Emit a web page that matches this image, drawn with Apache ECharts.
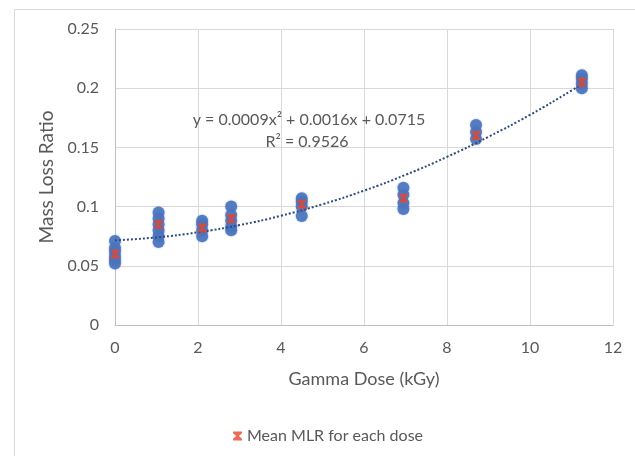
<!DOCTYPE html>
<html>
<head>
<meta charset="utf-8">
<script src="https://cdn.jsdelivr.net/npm/echarts@6/dist/echarts.min.js"></script>
<style>html,body{margin:0;padding:0;background:#fff;}#c{width:635px;height:456px;}</style>
</head>
<body>
<div id="c"></div>
<script>
// Raw measurements (dose kGy, mass loss ratio)
const doses = [0, 1.05, 2.1, 2.8, 4.5, 6.95, 8.7, 11.25];
const mlr0 = [0.052, 0.055, 0.058, 0.062, 0.065, 0.071];
const mlr1 = [0.070, 0.075, 0.080, 0.085, 0.090, 0.095];
const mlr2 = [0.075, 0.080, 0.085, 0.088];
const mlr3 = [0.080, 0.083, 0.088, 0.093, 0.100];
const mlr4 = [0.092, 0.100, 0.104, 0.107];
const mlr5 = [0.098, 0.103, 0.110, 0.116];
const mlr6 = [0.157, 0.163, 0.169];
const mlr7 = [0.200, 0.204, 0.208, 0.211];
const meanMLR = [0.060, 0.085, 0.082, 0.090, 0.102, 0.107, 0.160, 0.205];
// Trendline points
const trendX = [0, 1, 2, 3, 4, 5, 6, 7, 8, 9, 10, 11, 11.25];
const trendY = [0.0715, 0.074, 0.0783, 0.0844, 0.0923, 0.102, 0.1135, 0.1268, 0.142, 0.159, 0.1775, 0.198, 0.2034];
const xTicks = [0, 2, 4, 6, 8, 10, 12];
const yTicks = [0, 0.05, 0.1, 0.15, 0.2, 0.25];
const eqText1 = 'y = 0.0009x² + 0.0016x + 0.0715';
const eqText2 = 'R² = 0.9526';

const groups = [mlr0, mlr1, mlr2, mlr3, mlr4, mlr5, mlr6, mlr7];
const raw = [];
groups.forEach((g, i) => g.forEach(v => raw.push([doses[i], v])));
const means = doses.map((d, i) => [d, meanMLR[i]]);
const trend = trendX.map((x, i) => [x, trendY[i]]);

const FONT = 'Lato, "Liberation Sans", sans-serif';
const GREY = '#595959';
const bowtie = 'path://M0,0 L10,0 L10,2 L6.5,5 L10,8 L10,10 L0,10 L0,8 L3.5,5 L0,2 Z';

const chart = echarts.init(document.getElementById('c'));
chart.setOption({
  animation: false,
  textStyle: { fontFamily: FONT },
  graphic: [
    { type: 'rect', left: 12, top: 7, shape: { width: 622, height: 460 },
      style: { fill: 'none', stroke: '#d9d9d9', lineWidth: 1 }, z: -1 },
    { type: 'text', x: 309, y: 120, style: { text: eqText1, fill: GREY, font: '16px ' + FONT, align: 'center', verticalAlign: 'middle' }, z: 10 },
    { type: 'text', x: 307, y: 142, style: { text: eqText2, fill: GREY, font: '16px ' + FONT, align: 'center', verticalAlign: 'middle' }, z: 10 }
  ],
  grid: { left: 115, right: 22, top: 29, bottom: 131 },
  xAxis: {
    type: 'value', min: 0, max: 12, interval: 2,
    name: 'Gamma Dose (kGy)', nameLocation: 'middle', nameGap: 45,
    nameTextStyle: { color: GREY, fontSize: 18, fontFamily: FONT },
    axisLine: { show: true, lineStyle: { color: '#bfbfbf' } },
    axisTick: { show: false },
    axisLabel: { color: GREY, fontSize: 16, margin: 15, fontFamily: FONT,
      formatter: v => xTicks.includes(v) ? String(v) : '' },
    splitLine: { show: true, lineStyle: { color: '#d9d9d9' } }
  },
  yAxis: {
    type: 'value', min: 0, max: 0.25, interval: 0.05,
    name: 'Mass Loss Ratio', nameLocation: 'middle', nameGap: 58, nameRotate: 90,
    nameTextStyle: { color: GREY, fontSize: 19, fontFamily: FONT },
    axisLine: { show: true, lineStyle: { color: '#bfbfbf' } },
    axisTick: { show: false },
    axisLabel: { color: GREY, fontSize: 16, margin: 16, fontFamily: FONT,
      formatter: v => { const t = yTicks.find(y => Math.abs(y - v) < 1e-9); return t === undefined ? '' : String(t); } },
    splitLine: { show: true, lineStyle: { color: '#d9d9d9' } }
  },
  legend: {
    data: [{ name: 'Mean MLR for each dose', icon: bowtie }],
    left: 228, top: 423, itemWidth: 9, itemHeight: 9, itemGap: 6,
    textStyle: { color: GREY, fontSize: 16, fontFamily: FONT }
  },
  series: [
    {
      name: 'MLR', type: 'scatter', data: raw, symbolSize: 12,
      itemStyle: { color: '#4a74be', opacity: 0.9, shadowBlur: 2, shadowColor: 'rgba(68,114,196,0.5)' }, z: 2
    },
    {
      name: 'Trend', type: 'line', data: trend, smooth: true, showSymbol: false, symbol: 'none',
      lineStyle: { color: '#2f4b7c', width: 2, type: [2, 2] }, z: 3
    },
    {
      name: 'Mean MLR for each dose', type: 'scatter', data: means, symbol: bowtie, symbolSize: 9,
      itemStyle: { color: '#e8452c' }, z: 4
    }
  ]
});
</script>
</body>
</html>
